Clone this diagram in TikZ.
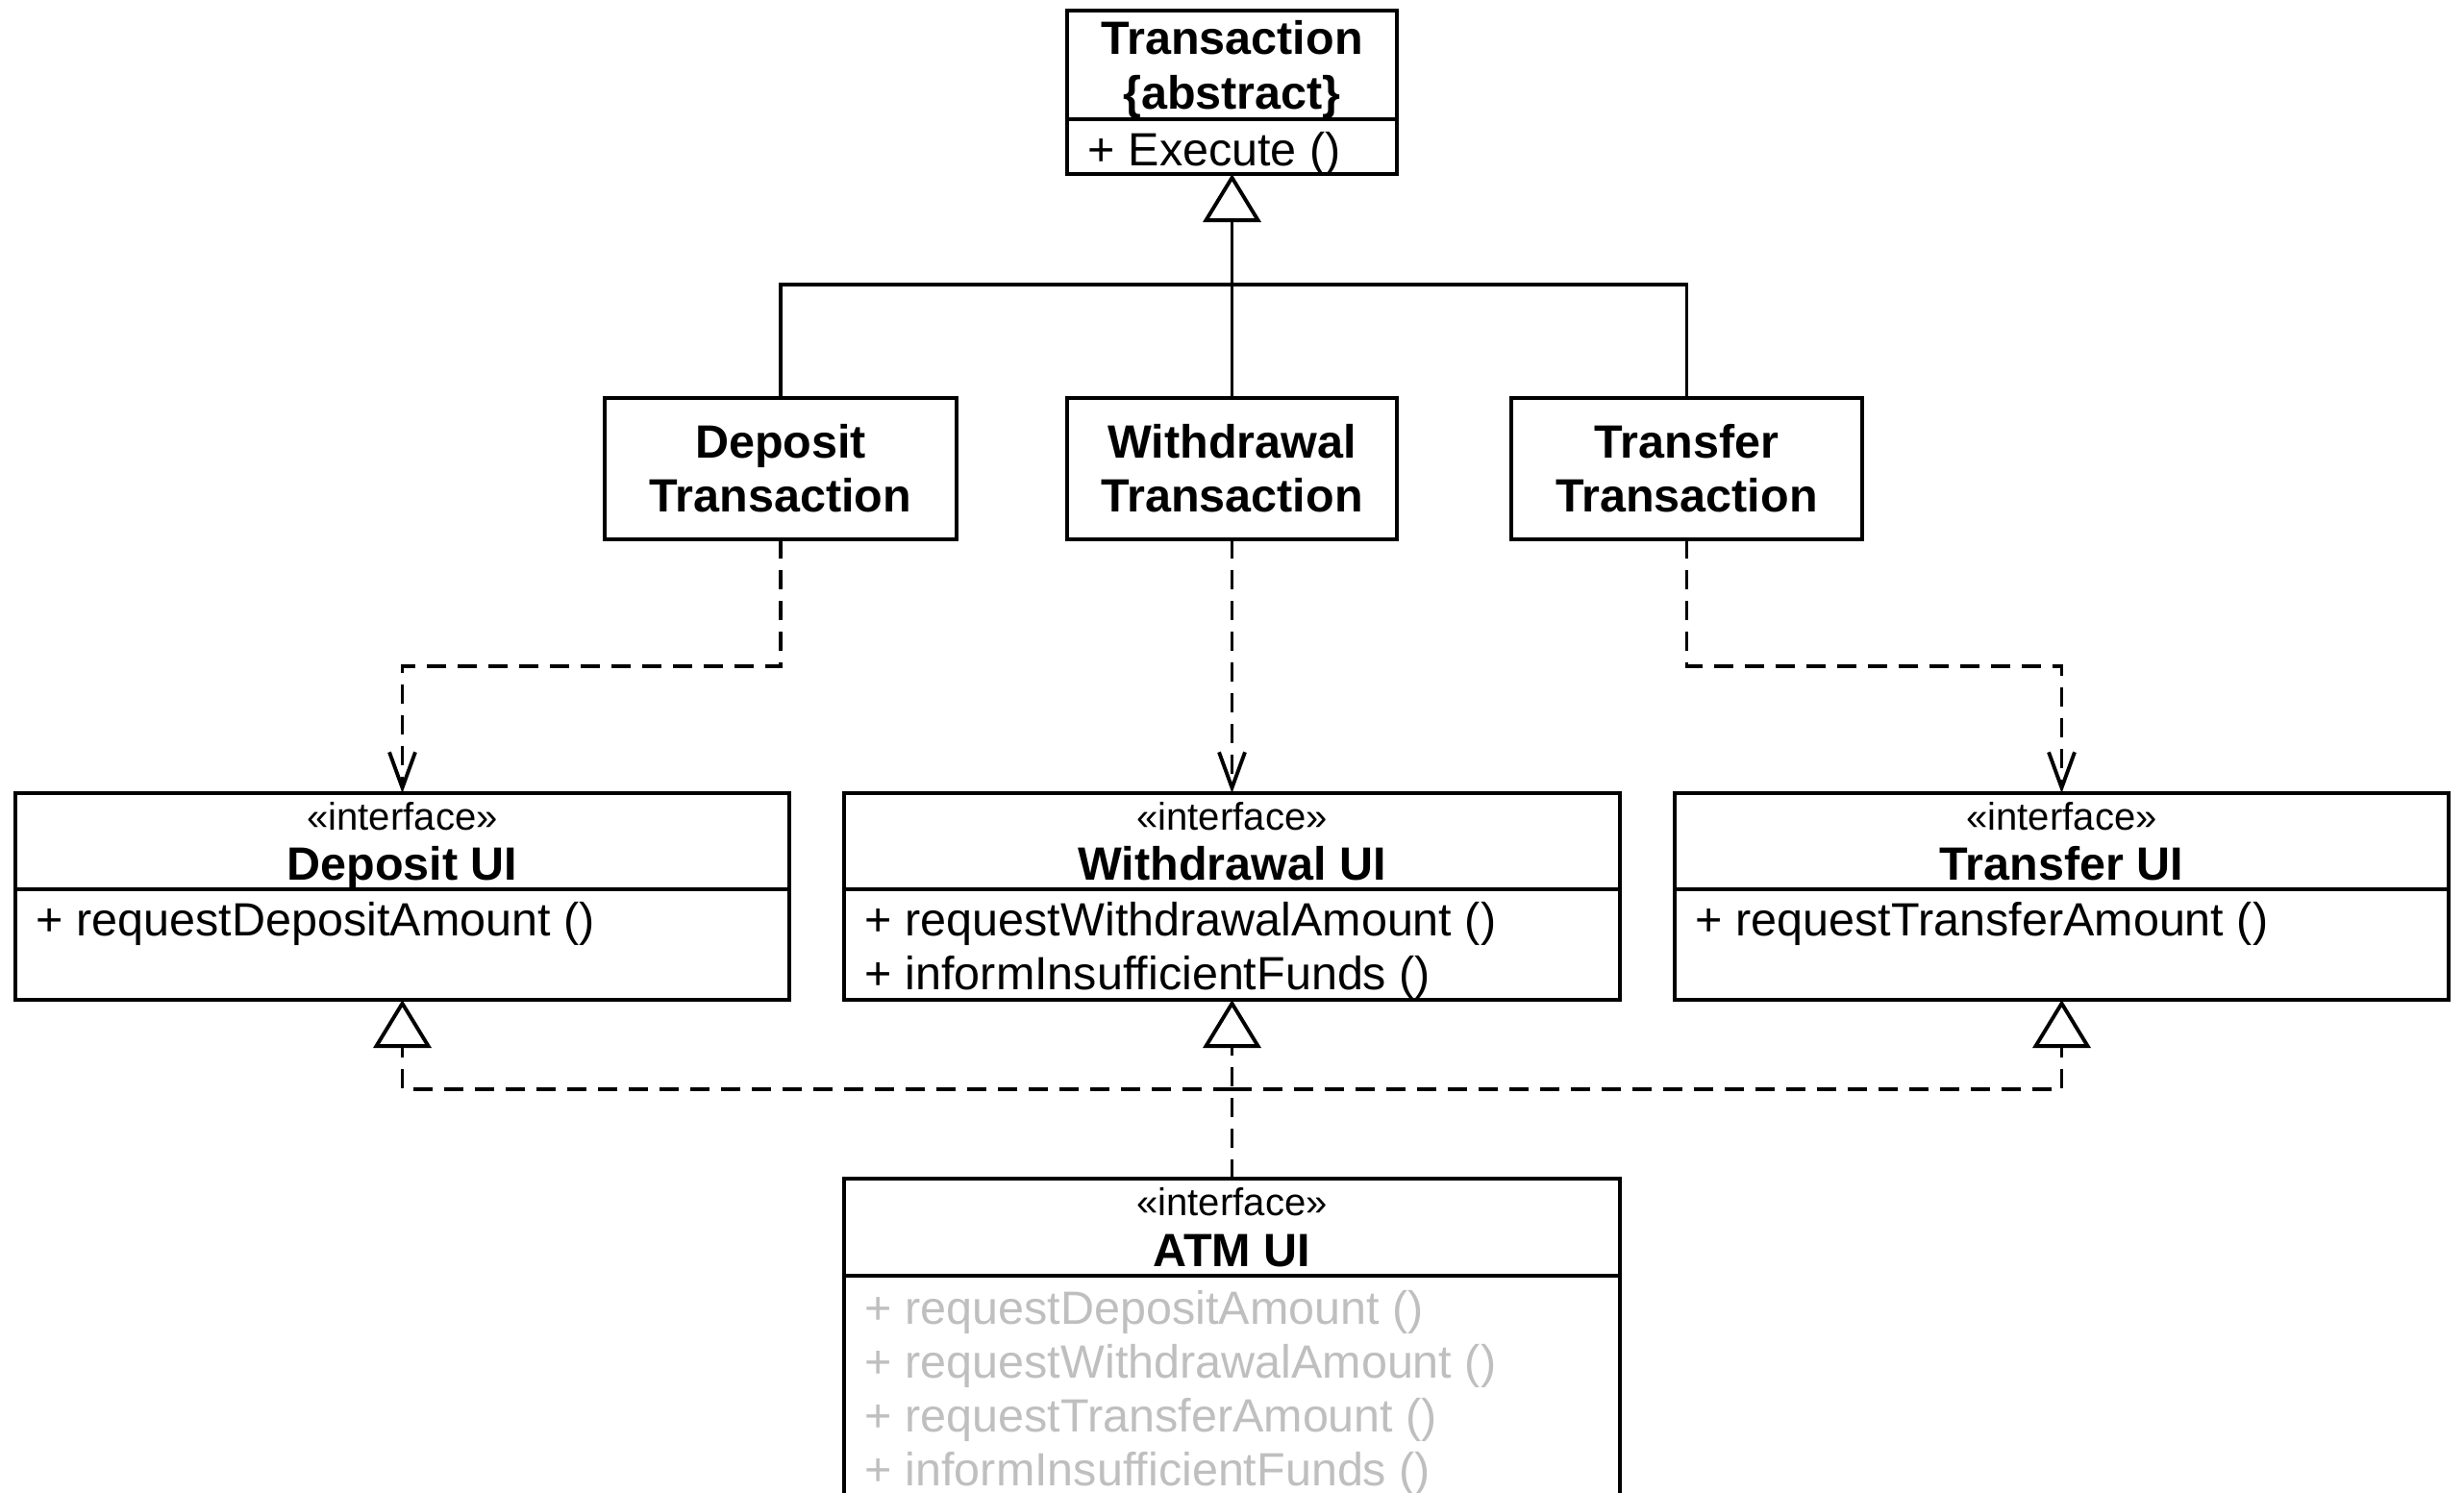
\documentclass[tikz,border=0pt]{standalone}
\usepackage{fontspec}
\setmainfont{Liberation Sans}
\usetikzlibrary{arrows.meta,positioning,calc}
\definecolor{opgray}{RGB}{191,191,191}
\newcommand{\umlstereo}[1]{{\fontsize{11.4}{13}\selectfont\mdseries #1}}
\newcommand{\nodepth}[1]{\raisebox{0pt}[\height][0pt]{#1}}
\newcommand{\umliface}[1]{\umlstereo{«interface»}\\[-1pt]\nodepth{#1}}

\begin{document}
\begin{tikzpicture}[
  font=\fontsize{13.8}{16}\selectfont,
  line width=1.1pt,
  clshead/.style={rectangle, draw, outer sep=0pt, inner sep=0pt,
    align=center, font=\fontsize{13.8}{16}\selectfont\bfseries},
  clsops/.style={rectangle, draw, outer sep=0pt, inner sep=0pt},
  optext/.style={anchor=north west, inner sep=0pt, align=left},
  gen/.style={-{Triangle[open, length=5mm, width=6mm]}},
  dep/.style={dash pattern=on 2mm off 1.2mm,
    -{Straight Barb[length=3.7mm, width=2.7mm]}},
  real/.style={dash pattern=on 2mm off 1.2mm,
    -{Triangle[open, length=5mm, width=6mm]}}
]
\useasboundingbox (0,0) rectangle (25.63,-15.52);
\clip (0,0) rectangle (25.63,-15.52);

% abstract base class
\node[clshead, minimum width=3.43cm, minimum height=1.13cm] (trans) at (12.815,-0.675) {Transaction\\\nodepth{\{abstract\}}};
\node[clsops, minimum width=3.43cm, minimum height=0.57cm, below=0pt of trans] (transops) {};
\node[optext] (transop) at ($(transops.north west)+(0.2,-0.11)$) {+ Execute ()};

% concrete transactions
\node[clshead, minimum width=3.43cm, minimum height=1.47cm] (wdt) at (12.815,-4.875) {Withdrawal\\Transaction};
\node[clshead, minimum width=3.66cm, minimum height=1.47cm, left=1.15cm of wdt] (dept) {Deposit\\Transaction};
\node[clshead, minimum width=3.65cm, minimum height=1.47cm, right=1.19cm of wdt] (trt) {Transfer\\Transaction};

% ui interfaces
\node[clshead, minimum width=8.07cm, minimum height=1cm] (wui) at (12.815,-8.75) {\umliface{Withdrawal UI}};
\node[clsops, minimum width=8.07cm, minimum height=1.15cm, below=0pt of wui] (wuiops) {};
\node[optext] (wuiop) at ($(wuiops.north west)+(0.2,-0.11)$) {+ requestWithdrawalAmount ()\\+ informInsufficientFunds ()};

\node[clshead, minimum width=8.05cm, minimum height=1cm, left=0.57cm of wui] (dui) {\umliface{Deposit UI}};
\node[clsops, minimum width=8.05cm, minimum height=1.15cm, below=0pt of dui] (duiops) {};
\node[optext] (duiop) at ($(duiops.north west)+(0.2,-0.11)$) {+ requestDepositAmount ()};

\node[clshead, minimum width=8.05cm, minimum height=1cm, right=0.57cm of wui] (tui) {\umliface{Transfer UI}};
\node[clsops, minimum width=8.05cm, minimum height=1.15cm, below=0pt of tui] (tuiops) {};
\node[optext] (tuiop) at ($(tuiops.north west)+(0.2,-0.11)$) {+ requestTransferAmount ()};

% atm ui
\node[clshead, minimum width=8.07cm, minimum height=1.01cm, below=1.86cm of wuiops] (atm) {\umliface{ATM UI}};
\node[clsops, minimum width=8.07cm, minimum height=2.5cm, below=0pt of atm] (atmops) {};
\node[optext, text=opgray] (atmop) at ($(atmops.north west)+(0.2,-0.13)$) {+ requestDepositAmount ()\\+ requestWithdrawalAmount ()\\+ requestTransferAmount ()\\+ informInsufficientFunds ()};

% generalization
\coordinate (genbar) at (12.815,-2.96);
\draw[gen] (wdt.north) -- (transops.south);
\draw (dept.north) |- (genbar) -| (trt.north);

% dependencies
\draw[dep] (dept.south) -- ++(0,-1.32) -| (dui.north);
\draw[dep] (wdt.south) -- (wui.north);
\draw[dep] (trt.south) -- ++(0,-1.32) -| (tui.north);

% realization
\coordinate (realbar) at ($(atm.north)+(0,0.93)$);
\draw[real] (atm.north) -- (wuiops.south);
\draw[real] (realbar) -| (duiops.south);
\draw[real] (realbar) -| (tuiops.south);

\end{tikzpicture}
\end{document}
